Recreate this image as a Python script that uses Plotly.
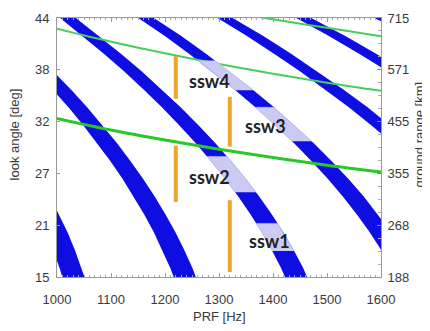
import numpy as np
import plotly.graph_objects as go

# look-angle grid (deg) at which band centres are read
ANGLES = [12, 14, 16, 18, 20, 22, 24, 26, 28, 30, 32, 34, 36, 38, 40, 42, 44, 46]

# band centre PRF (Hz) for each blind-range band, and band half width (Hz)
BAND_5 = [1045.4, 1036.0, 1025.3, 1013.0, 999.5, 984.4, 968.0, 950.3, 931.1, 910.6, 888.7, 865.5, 840.8, 814.9, 787.6, 759.0, 728.9, 697.3]
BAND_6 = [1254.5, 1243.2, 1230.3, 1215.6, 1199.3, 1181.3, 1161.5, 1140.3, 1117.3, 1092.7, 1066.4, 1038.5, 1009.0, 977.9, 945.1, 910.7, 874.6, 836.8]
BAND_7 = [1463.6, 1450.4, 1435.4, 1418.2, 1399.2, 1378.2, 1355.1, 1330.4, 1303.5, 1274.8, 1244.1, 1211.6, 1177.1, 1140.9, 1102.6, 1062.5, 1020.4, 976.2]
BAND_8 = [1672.6, 1657.6, 1640.4, 1620.8, 1599.1, 1575.0, 1548.7, 1520.4, 1489.7, 1456.9, 1421.8, 1384.7, 1345.3, 1303.8, 1260.2, 1214.3, 1166.2, 1115.7]
BAND_9 = [1881.7, 1864.8, 1845.5, 1823.4, 1799.0, 1771.9, 1742.3, 1710.5, 1675.9, 1639.0, 1599.6, 1557.8, 1513.4, 1466.8, 1417.7, 1366.1, 1311.9, 1255.1]
BAND_10 = [2090.8, 2072.0, 2050.5, 2026.0, 1998.9, 1968.8, 1935.9, 1900.5, 1862.1, 1821.1, 1777.3, 1730.9, 1681.6, 1629.8, 1575.2, 1517.9, 1457.7, 1394.6]
BAND_11 = [2299.9, 2279.2, 2255.6, 2228.6, 2198.8, 2165.7, 2129.5, 2090.6, 2048.3, 2003.2, 1955.0, 1904.0, 1849.8, 1792.8, 1732.7, 1669.7, 1603.5, 1534.1]
HALF_WIDTH = [20.9, 20.7, 20.5, 20.3, 20.0, 19.7, 19.4, 19.0, 18.6, 18.2, 17.8, 17.3, 16.8, 16.3, 15.8, 15.2, 14.6, 13.9]
BANDS = {5: BAND_5, 6: BAND_6, 7: BAND_7, 8: BAND_8, 9: BAND_9, 10: BAND_10, 11: BAND_11}

# highlighted (sub-swath) parts of bands
PATCH_NAMES = ["ssw1", "ssw2", "ssw3", "ssw4"]
PATCH_BAND = [7, 7, 8, 8]
PATCH_LO = [17.9, 24.5, 30.2, 35.9]
PATCH_HI = [21.0, 28.5, 34.0, 39.2]

# orange swath markers: PRF and look-angle extent
SWATH_PRF = [1320, 1220, 1320, 1220]
SWATH_LO = [15.55, 23.4, 29.6, 34.95]
SWATH_HI = [23.6, 29.7, 35.17, 39.75]

# label positions (left edge PRF, look angle)
LABEL_PRF = [1352, 1241, 1344, 1241]
LABEL_ANG = [19.0, 26.2, 31.9, 36.9]

# nadir-echo curves
NADIR1_PRF = [1000, 1100, 1200, 1300, 1400, 1500, 1600]
NADIR1_ANG = [32.75, 31.45, 30.33, 29.3, 28.38, 27.52, 26.75]
NADIR2_PRF = [1000, 1100, 1200, 1300, 1400, 1500, 1600]
NADIR2_ANG = [42.8, 41.35, 40.06, 38.85, 37.77, 36.76, 35.85]
NADIR3_PRF = [1350, 1400, 1500, 1600]
NADIR3_ANG = [44.35, 43.85, 42.9, 41.95]

# axis ticks
LOOK_TICKS = [15, 20.8, 26.6, 32.4, 38.2, 44]
LOOK_LABELS = ["15", "21", "27", "32", "38", "44"]
GROUND_LABELS = ["188", "268", "355", "455", "571", "715"]
PRF_TICKS = [1000, 1100, 1200, 1300, 1400, 1500, 1600]

BLUE = "rgb(14,14,226)"
LIGHT = "rgb(202,202,242)"
ORANGE = "rgb(240,165,40)"

fig = go.Figure()
ang = np.array(ANGLES)
hw = np.array(HALF_WIDTH)
for n, c in BANDS.items():
    c = np.array(c)
    xs = np.concatenate([c - hw, (c + hw)[::-1]])
    ys = np.concatenate([ang, ang[::-1]])
    fig.add_trace(go.Scatter(x=xs, y=ys, fill="toself", fillcolor=BLUE, mode="lines",
                             line=dict(width=0, color=BLUE), hoverinfo="skip", showlegend=False))

for px, pa, w, col in [(NADIR2_PRF, NADIR2_ANG, 2, "rgb(70,205,90)"),
                       (NADIR3_PRF, NADIR3_ANG, 2, "rgb(70,205,90)"),
                       (NADIR1_PRF, NADIR1_ANG, 3, "rgb(40,200,40)")]:
    fig.add_trace(go.Scatter(x=px, y=pa, mode="lines", line=dict(width=w, color=col, shape="spline"),
                             hoverinfo="skip", showlegend=False))

for name, b, lo, hi in zip(PATCH_NAMES, PATCH_BAND, PATCH_LO, PATCH_HI):
    a = np.linspace(lo, hi, 25)
    c = np.array(BANDS[b])
    left = np.interp(a, ang, c - hw)
    right = np.interp(a, ang, c + hw)
    fig.add_trace(go.Scatter(x=np.concatenate([left, right[::-1]]), y=np.concatenate([a, a[::-1]]),
                             fill="toself", fillcolor=LIGHT, mode="lines", line=dict(width=0.5, color=LIGHT),
                             hoverinfo="skip", showlegend=False))

for p, lo, hi in zip(SWATH_PRF, SWATH_LO, SWATH_HI):
    fig.add_trace(go.Scatter(x=[p, p], y=[lo, hi], mode="lines", line=dict(width=4, color=ORANGE),
                             hoverinfo="skip", showlegend=False))

for name, x, y in zip(PATCH_NAMES, LABEL_PRF, LABEL_ANG):
    fig.add_annotation(x=x, y=y, text=name, showarrow=False, xanchor="left", yanchor="middle",
                       font=dict(family="Lato", size=18, color="#222", weight="bold"))

# invisible trace to activate right axis
fig.add_trace(go.Scatter(x=[1000], y=[15], yaxis="y2", mode="markers", marker=dict(opacity=0),
                         hoverinfo="skip", showlegend=False))

tickfont = dict(family="Liberation Sans", size=13, color="#3a3a3a")
fig.update_layout(
    width=422, height=323,
    margin=dict(l=49, r=49, t=3, b=54),
    paper_bgcolor="white", plot_bgcolor="white",
    xaxis=dict(range=[1000, 1600], tickvals=PRF_TICKS, ticks="inside", ticklen=4, tickcolor="#999",
               showline=True, linecolor="#999", linewidth=1, mirror="ticks", showgrid=False, zeroline=False,
               tickfont=tickfont, ticklabeloverflow="allow", ticklabelstandoff=10,
               minor=dict(dtick=10, tick0=1000, ticks="inside", ticklen=2, tickcolor="#aaa")),
    yaxis=dict(range=[15, 44], tickvals=LOOK_TICKS, ticktext=LOOK_LABELS, ticks="inside", ticklen=3,
               tickcolor="#999", showline=True, linecolor="#999", linewidth=1, showgrid=False, zeroline=False,
               tickfont=tickfont, ticklabeloverflow="allow", ticklabelstandoff=4),
    yaxis2=dict(range=[15, 44], overlaying="y", side="right", anchor="x", tickvals=LOOK_TICKS,
                ticktext=GROUND_LABELS, ticks="inside", ticklen=4, tickcolor="#888", showline=True,
                linecolor="#999", linewidth=1, showgrid=False, zeroline=False, tickfont=tickfont,
                ticklabeloverflow="allow", ticklabelstandoff=3,
                minor=dict(dtick=1.45, tick0=15, ticks="inside", ticklen=3, tickcolor="#aaa")),
)

titlefont = dict(family="Liberation Sans", size=13, color="#3a3a3a")
fig.add_annotation(text="PRF [Hz]", xref="paper", yref="paper", x=0.5, y=-0.154, showarrow=False,
                   xanchor="center", yanchor="middle", font=titlefont)
fig.add_annotation(text="look angle [deg]", xref="paper", yref="paper", x=-0.13, y=0.55, showarrow=False,
                   textangle=-90, xanchor="center", yanchor="middle", font=titlefont)
fig.add_annotation(text="ground range [km]", xref="paper", yref="paper", x=1.12, y=0.55, showarrow=False,
                   textangle=-90, xanchor="center", yanchor="middle", font=titlefont)

fig.write_html("out.html")
